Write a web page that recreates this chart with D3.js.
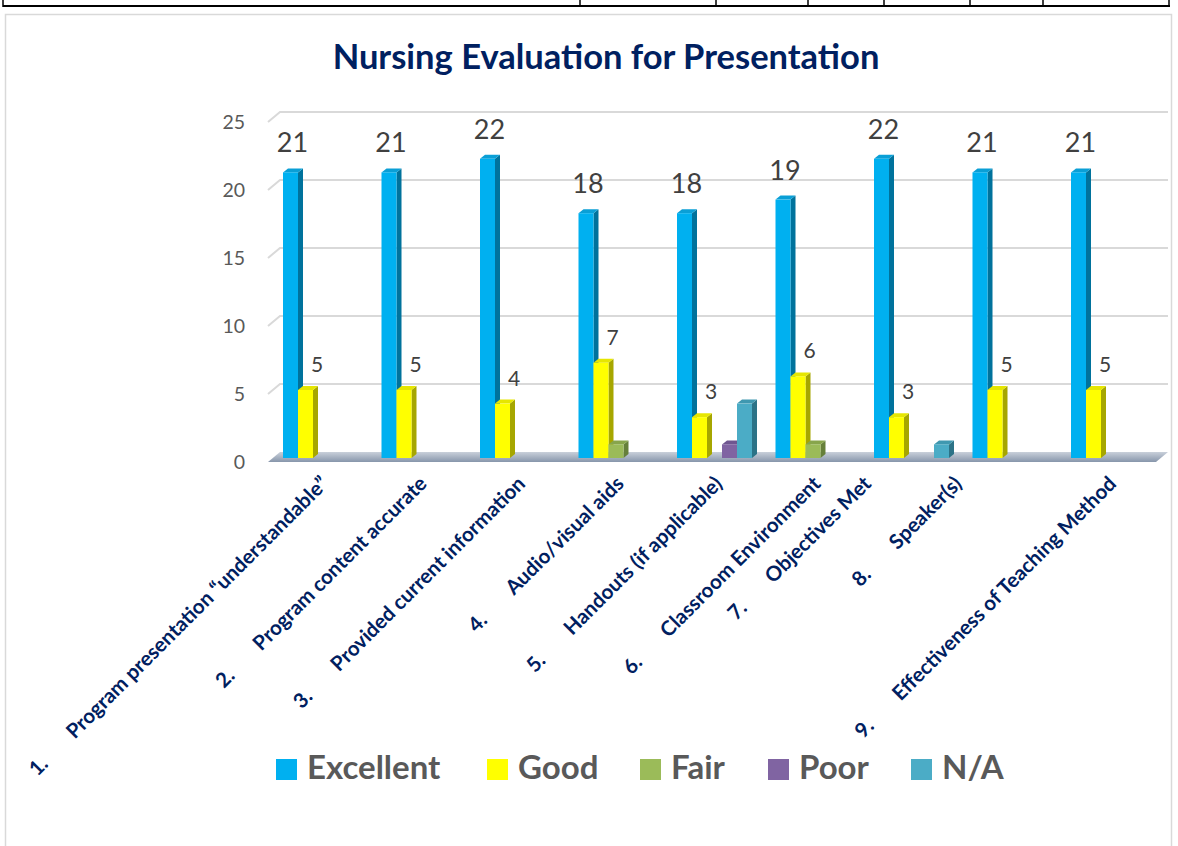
<!DOCTYPE html>
<html>
<head>
<meta charset="utf-8">
<script src="https://cdn.jsdelivr.net/npm/d3@7"></script>
<style>
  body { margin: 0; background: #fff; }
  svg text { font-family: Lato, "Open Sans", sans-serif; }
</style>
</head>
<body>
<svg id="chart" width="1178" height="846"></svg>
<script>
// chart data
const categories = [
  "Program presentation \u201Cunderstandable\u201D",
  "Program content accurate",
  "Provided current information",
  "Audio/visual aids",
  "Handouts (if applicable)",
  "Classroom Environment",
  "Objectives Met",
  "Speaker(s)",
  "Effectiveness of Teaching Method"
];
const seriesNames = ["Excellent", "Good", "Fair", "Poor", "N/A"];
const excellent = [21, 21, 22, 18, 18, 19, 22, 21, 21];
const good = [5, 5, 4, 7, 3, 6, 3, 5, 5];
const fair = [0, 0, 0, 1, 0, 1, 0, 0, 0];
const poor = [0, 0, 0, 0, 1, 0, 0, 0, 0];
const notApplicable = [0, 0, 0, 0, 4, 0, 1, 0, 0];
const yTicks = [0, 5, 10, 15, 20, 25];
const labelledSeries = ["Excellent", "Good"];

const seriesValues = [excellent, good, fair, poor, notApplicable];
// front / side / top colours per series
const colors = {
  "Excellent": ["#00b0f0", "#00729c", "#0a9fd6"],
  "Good": ["#ffff00", "#a6a600", "#e6e600"],
  "Fair": ["#9bbb59", "#66803a", "#87a54b"],
  "Poor": ["#8064a2", "#54406c", "#6f5690"],
  "N/A": ["#4bacc6", "#2c7387", "#3f98b0"]
};

const svg = d3.select("#chart");

// table remnant at the top of the page
svg.append("line").attr("x1", 3).attr("x2", 1170).attr("y1", 6).attr("y2", 6)
  .attr("stroke", "#000").attr("stroke-width", 2);
[3, 580, 716, 808, 884, 970, 1043, 1169].forEach(x => {
  svg.append("line").attr("x1", x).attr("x2", x).attr("y1", 0).attr("y2", 7)
    .attr("stroke", "#000").attr("stroke-width", 1.5);
});

// chart area border
svg.append("rect").attr("x", 5.5).attr("y", 14.5).attr("width", 1166).attr("height", 845)
  .attr("fill", "#fff").attr("stroke", "#d9d9d9").attr("stroke-width", 1.5);

// title
svg.append("text")
  .attr("x", 606).attr("y", 69)
  .attr("text-anchor", "middle")
  .attr("font-size", 34.5).attr("font-weight", 700)
  .attr("fill", "#002060")
  .text("Nursing Evaluation for Presentation");

// scales
const x = d3.scaleBand()
  .domain(d3.range(categories.length))
  .range([271.25, 1157.75])
  .paddingInner(0.2386)
  .paddingOuter(0.1193);
const xSub = d3.scaleBand().domain(seriesNames).range([0, x.bandwidth()]);
const y = d3.scaleLinear().domain([0, 25]).range([452, 112]);

// 3d offsets: back wall and bar depth
const wallDx = 12, wallDy = 10;
const barShift = 6, depthX = 5, depthY = 4;
const plotLeft = 268, plotRight = 1168;

// gridlines on the back wall, with the slanted left side wall edge
const grid = svg.append("g");
yTicks.filter(d => d > 0).forEach(t => {
  grid.append("path")
    .attr("d", `M${plotLeft},${y(t) + wallDy} L${plotLeft + wallDx},${y(t)} L${plotRight},${y(t)}`)
    .attr("fill", "none").attr("stroke", "#d9d9d9").attr("stroke-width", 2);
});

// y tick labels
svg.append("g").selectAll("text")
  .data(yTicks)
  .join("text")
  .attr("x", 245)
  .attr("y", d => y(d) + 10)
  .attr("dy", "0.35em")
  .attr("text-anchor", "end")
  .attr("font-size", 19.5)
  .attr("fill", "#595959")
  .text(d => d);

// floor
const defs = svg.append("defs");
const fg = defs.append("linearGradient").attr("id", "floorGrad")
  .attr("x1", 0).attr("y1", 0).attr("x2", 0).attr("y2", 1);
fg.append("stop").attr("offset", "0%").attr("stop-color", "#c9d0da");
fg.append("stop").attr("offset", "100%").attr("stop-color", "#8796ab");
svg.append("path")
  .attr("d", `M${plotLeft},${y(0) + wallDy} L${plotLeft + wallDx},${y(0)} L${plotRight},${y(0)} L${plotRight - wallDx},${y(0) + wallDy} Z`)
  .attr("fill", "url(#floorGrad)");

// bars
const bars = svg.append("g");
seriesNames.forEach((name, si) => {
  const vals = seriesValues[si];
  const [front, side, top] = colors[name];
  const w = xSub.bandwidth();
  const g = bars.append("g");
  vals.forEach((v, ci) => {
    if (v <= 0) return;
    const bx = x(ci) + xSub(name);
    const by = y(v) + barShift;
    const base = y(0) + barShift;
    g.append("path")
      .attr("d", `M${bx + w},${by} L${bx + w + depthX},${by - depthY} L${bx + w + depthX},${base - depthY} L${bx + w},${base} Z`)
      .attr("fill", side);
    g.append("path")
      .attr("d", `M${bx},${by} L${bx + depthX},${by - depthY} L${bx + w + depthX},${by - depthY} L${bx + w},${by} Z`)
      .attr("fill", top);
    g.append("rect")
      .attr("x", bx).attr("y", by)
      .attr("width", w).attr("height", base - by)
      .attr("fill", front);
  });
});

// data labels for Excellent and Good
labelledSeries.forEach(name => {
  const vals = seriesValues[seriesNames.indexOf(name)];
  const big = name === "Excellent";
  svg.append("g").selectAll("text")
    .data(vals.map((v, i) => ({ v, i })).filter(d => d.v > 0))
    .join("text")
    .attr("x", d => big
      ? x(d.i) + xSub(name) + xSub.bandwidth() / 2 + 2
      : x(d.i) + xSub(name) + xSub.bandwidth() + 4)
    .attr("y", d => y(d.v) + barShift - (big ? 20 : 18))
    .attr("text-anchor", "middle")
    .attr("font-size", big ? 27 : 21)
    .attr("fill", "#404040")
    .text(d => d.v);
});

// rotated category labels (7 and 8 sit further left in the original)
const labelNudge = { 6: -48, 7: -56 };
const xl = svg.append("g");
categories.forEach((c, i) => {
  const ax = x(i) + x.bandwidth() / 2 + 9 + (labelNudge[i] || 0);
  const ay = 485;
  const t = xl.append("text")
    .attr("transform", `translate(${ax},${ay}) rotate(-45)`)
    .attr("text-anchor", "end")
    .attr("font-size", 20.5)
    .attr("font-weight", 700)
    .attr("fill", "#002060");
  t.append("tspan").text(`${i + 1}.`);
  t.append("tspan").attr("dx", 36).text(c);
});

// legend
const legendItems = [
  { name: "Excellent", sx: 276 },
  { name: "Good", sx: 487 },
  { name: "Fair", sx: 640 },
  { name: "Poor", sx: 768 },
  { name: "N/A", sx: 911 }
];
const legend = svg.append("g");
legendItems.forEach(d => {
  legend.append("rect")
    .attr("x", d.sx).attr("y", 759)
    .attr("width", 21).attr("height", 21)
    .attr("fill", colors[d.name][0]);
  legend.append("text")
    .attr("x", d.sx + 31).attr("y", 779)
    .attr("font-size", 33).attr("font-weight", 700)
    .attr("fill", "#595959")
    .text(d.name);
});
</script>
</body>
</html>
